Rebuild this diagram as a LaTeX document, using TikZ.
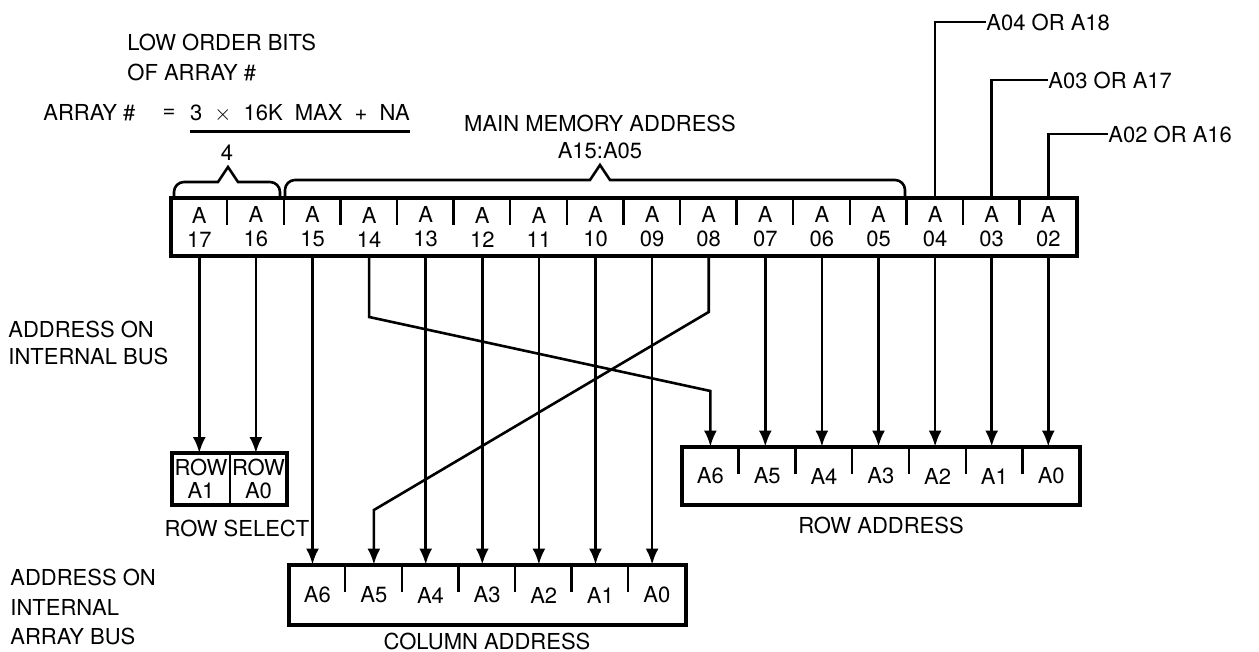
\documentclass[tikz,border=0pt]{standalone}
\usepackage{fontspec}
\setmainfont{TeX Gyre Heros}
\usetikzlibrary{arrows.meta}

\tikzset{
  lbl/.style={font=\fontsize{11}{13.5}\selectfont, inner sep=0pt, align=left},
  bitcell/.style={minimum width=28.3pt, minimum height=28.5pt, inner sep=0pt,
    align=center, font=\fontsize{11}{12}\selectfont},
  boxframe/.style={line width=2pt},
  divtick/.style={line width=1.2pt},
  wire/.style={line width=1.3pt},
  arr/.style={wire, -{Latex[length=8pt,width=6.5pt]}},
}

\begin{document}
\begin{tikzpicture}[x=0.5pt,y=-0.5pt]
\useasboundingbox (0,0) rectangle (1259,652);

% address register
\foreach \n [count=\i from 0] in {17,16,15,14,13,12,11,10,09,08,07,06,05,04,03,02}
  \node[bitcell] (r\n) at ({171+56.6*(\i+0.5)},227) {A\\\n};
\draw[boxframe] (r17.north west) rectangle (r02.south east);
\foreach \n in {16,15,14,13,12,11,10,09,08,07,06,05,04,03,02}
  \draw[divtick] (r\n.north west) -- ++(0,27);

% braces above the register
\draw[wire] (174,197) [rounded corners=5pt] |- (200,182) [sharp corners] -- (218,182)
  -- (228,167) -- (238,182) -- (256,182) [rounded corners=5pt] -| (280,197);
\draw[wire] (285,197) [rounded corners=5pt] |- (320,180) [sharp corners] -- (590,180)
  -- (600,165) -- (610,180) -- (880,180) [rounded corners=5pt] -| (905,197);

% texts at the top
\node[lbl, anchor=west, font=\fontsize{11}{15}\selectfont] (loworder) at (127,58) {LOW ORDER BITS\\OF ARRAY \#};
\node[lbl, anchor=west] (arrayno) at (43,113) {ARRAY \#};
\node[lbl] (equals) at (169,113) {=};
\node[lbl] (numer) at (300,113) {\spaceskip=0.55em 3 $\times$ 16K MAX + NA};
\draw[wire] ([yshift=-4.5pt]numer.south west) -- ([yshift=-4.5pt]numer.south east);
\node[lbl] (denom) at (227,153) {4};
\node[lbl, align=center] (mainaddr) at (600,137) {MAIN MEMORY ADDRESS\\A15:A05};

% high bits on the right
\node[lbl, anchor=west] (hi04) at (986,22) {A04 OR A18};
\node[lbl, anchor=west] (hi03) at (1048,80) {A03 OR A17};
\node[lbl, anchor=west] (hi02) at (1108,134) {A02 OR A16};
\draw[wire] (r04.north) |- (hi04.west);
\draw[wire] (r03.north) |- (hi03.west);
\draw[wire] (r02.north) |- (hi02.west);

% row select
\node[bitcell, minimum height=25.5pt, font=\fontsize{11}{11.5}\selectfont] (rs1) at (201,479) {ROW\\A1};
\node[bitcell, minimum height=25.5pt, font=\fontsize{11}{11.5}\selectfont] (rs0) at (258.5,479) {ROW\\A0};
\draw[boxframe] (rs1.north west) rectangle (rs0.south east);
\draw[divtick] (rs0.north west) -- (rs0.south west);
\node[lbl] (rowsel) at (237,528) {ROW SELECT};

% row address
\foreach \n [count=\i from 0] in {6,5,4,3,2,1,0}
  \node[bitcell, minimum height=29pt] (ra\n) at ({682+56.8*(\i+0.5)},476) {A\n};
\draw[boxframe] (ra6.north west) rectangle (ra0.south east);
\foreach \n in {5,4,3,2,1,0}
  \draw[divtick] (ra\n.north west) -- ++(0,27);
\node[lbl] (rowaddr) at (881,525) {ROW ADDRESS};

% column address
\foreach \n [count=\i from 0] in {6,5,4,3,2,1,0}
  \node[bitcell, minimum height=30pt] (ca\n) at ({289+56.6*(\i+0.5)},595) {A\n};
\draw[boxframe] (ca6.north west) rectangle (ca0.south east);
\foreach \n in {5,4,3,2,1,0}
  \draw[divtick] (ca\n.north west) -- ++(0,27);
\node[lbl] (coladdr) at (487,641) {COLUMN ADDRESS};

% left side notes
\node[lbl, anchor=west] (intbus) at (8,343) {ADDRESS ON\\INTERNAL BUS};
\node[lbl, anchor=west, font=\fontsize{11}{14.75}\selectfont] (arraybus) at (10,607) {ADDRESS ON\\INTERNAL\\ARRAY BUS};

% connections
\draw[arr] (r17.south) -- (r17.south |- rs1.north);
\draw[arr] (r16.south) -- (r16.south |- rs0.north);
\foreach \s/\t in {15/ca6,13/ca4,12/ca3,11/ca2,10/ca1,09/ca0}
  \draw[arr] (r\s.south) -- (r\s.south |- \t.north);
\foreach \s/\t in {07/ra5,06/ra4,05/ra3,04/ra2,03/ra1,02/ra0}
  \draw[arr] (r\s.south) -- (r\s.south |- \t.north);
\draw[arr] (r14.south) -- (r14.south |- 0,317) -- (ra6.north |- 0,391) -- (ra6.north);
\draw[arr] (r08.south) -- (r08.south |- 0,312) -- (ca5.north |- 0,510) -- (ca5.north);
\end{tikzpicture}
\end{document}
